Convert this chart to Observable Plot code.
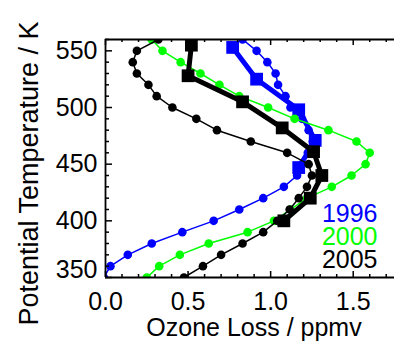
<!DOCTYPE html>
<html><head><meta charset="utf-8">
<script src="https://cdn.jsdelivr.net/npm/d3@7"></script>
<script src="https://cdn.jsdelivr.net/npm/@observablehq/plot@0.6"></script>
<style>body{margin:0;background:#fff} svg{display:block}</style>
</head><body><div id="chart"></div>
<script>
// Potential temperature levels (K) for the thin profiles
const levels = [350,360,370,380,390,400,410,420,430,440,450,460,470,480,490,500,510,520,530,540,550,560];
// Ozone loss (ppmv) thin profiles
const loss1996 = [-0.01,0.03,0.135,0.28,0.465,0.655,0.81,0.955,1.08,1.16,1.19,1.225,1.255,1.23,1.19,1.12,1.09,1.045,1.03,0.98,0.915,0.83];
const loss2000 = [0.25,0.325,0.45,0.625,0.86,1.02,1.12,1.22,1.37,1.49,1.575,1.60,1.52,1.35,1.145,0.985,0.81,0.69,0.575,0.455,0.345,0.28];
const loss2005 = [0.475,0.59,0.70,0.83,0.955,1.04,1.115,1.17,1.22,1.25,1.23,1.10,0.88,0.675,0.55,0.405,0.31,0.26,0.19,0.165,0.19,0.32];
// Thick profiles (squares)
const levels1996Thick = [553,525,498,471,447];
const loss1996Thick = [0.77,0.915,1.17,1.27,1.17];
const levels2005Thick = [555,528,505,482,461,440,420,400];
const loss2005Thick = [0.52,0.50,0.83,1.07,1.26,1.31,1.24,1.08];
// Legend / styling categories
const years = ["1996","2000","2005"];
const colors = ["#0000ff","#00ff00","#000000"];
// Axes
const xDomain = [0, 1.75];
const yDomain = [350, 560];
const xMajor = [0.0, 0.5, 1.0, 1.5];
const xMinor = [0.1,0.2,0.3,0.4,0.6,0.7,0.8,0.9,1.1,1.2,1.3,1.4,1.6,1.7];
const yMajor = [350, 400, 450, 500, 550];
const yMinor = [360,370,380,390,410,420,430,440,460,470,480,490,510,520,530,540,560];
const xLabel = "Ozone Loss / ppmv";
const yLabel = "Potential Temperature / K";

const W = 394, H = 342, mL = 105, mR = 0, mT = 39, mB = 65;
const pw = W - mL - mR, ph = H - mT - mB;
const FS = 25;

const rows = (lv, vals) => lv.map((t, i) => ({t, loss: vals[i]}));
const thin = [loss1996, loss2000, loss2005].map(v => rows(levels, v));
const thick1996 = rows(levels1996Thick, loss1996Thick);
const thick2005 = rows(levels2005Thick, loss2005Thick);

const thinMarks = i => [
  Plot.line(thin[i], {x: "loss", y: "t", stroke: colors[i], strokeWidth: 1.5, clip: true}),
  Plot.dot(thin[i], {x: "loss", y: "t", r: 4.3, fill: colors[i], stroke: "none", clip: true})
];
const thickMarks = (data, c) => [
  Plot.line(data, {x: "loss", y: "t", stroke: c, strokeWidth: 5, clip: true}),
  Plot.dot(data, {x: "loss", y: "t", symbol: "square", r: 7.2, fill: c, stroke: "none", clip: true})
];
const yLabelOpts = {tickSize: 0, tickPadding: 8, tickFormat: "d", fontSize: FS, label: null};

const chart = Plot.plot({
  width: W, height: H,
  marginLeft: mL, marginRight: mR, marginTop: mT, marginBottom: mB,
  style: {fontFamily: "Liberation Sans, Arial, sans-serif", background: "#fff", color: "#000"},
  x: {domain: xDomain},
  y: {domain: yDomain},
  marks: [
    ...thinMarks(0),
    ...thickMarks(thick1996, colors[0]),
    ...thinMarks(1),
    ...thinMarks(2),
    ...thickMarks(thick2005, colors[2]),
    // inward ticks, bottom and top
    Plot.tickX(xMajor, {x: d => d, insetTop: ph - 6, strokeWidth: 1.5}),
    Plot.tickX(xMajor, {x: d => d, insetBottom: ph - 6, strokeWidth: 1.5}),
    Plot.tickX(xMinor, {x: d => d, insetTop: ph - 3, strokeWidth: 1.5}),
    Plot.tickX(xMinor, {x: d => d, insetBottom: ph - 3, strokeWidth: 1.5}),
    // inward ticks, left
    Plot.tickY(yMajor, {y: d => d, insetRight: pw - 7, strokeWidth: 1.5}),
    Plot.tickY(yMinor, {y: d => d, insetRight: pw - 4, strokeWidth: 1.5}),
    // axis lines
    Plot.ruleX(xDomain.slice(0, 1), {strokeWidth: 1.8}),
    Plot.ruleY(yDomain, {strokeWidth: 1.8}),
    // tick labels
    Plot.axisX({ticks: xMajor, tickSize: 0, tickPadding: 15, tickFormat: ".1f", fontSize: FS, label: null}),
    Plot.axisY({ticks: yMajor.slice(1), ...yLabelOpts}),
    Plot.axisY({ticks: yMajor.slice(0, 1), ...yLabelOpts, dy: -8}),
    // axis titles
    Plot.text([xLabel], {text: d => d, frameAnchor: "bottom", textAnchor: "middle", dx: 4, dy: 58, lineAnchor: "bottom", fontSize: FS, fill: "#000"}),
    Plot.text([yLabel], {text: d => d, frameAnchor: "left", textAnchor: "middle", rotate: -90, dx: -68, dy: 15, lineAnchor: "bottom", fontSize: 27, fill: "#000"}),
    // legend
    ...years.map((y, i) => Plot.text([y], {text: d => d, frameAnchor: "bottom-right", textAnchor: "end", lineAnchor: "bottom", dx: -17, dy: -56 + 23 * i, fontSize: FS, fill: colors[i]}))
  ]
});
document.getElementById("chart").appendChild(chart);
</script>
</body></html>
